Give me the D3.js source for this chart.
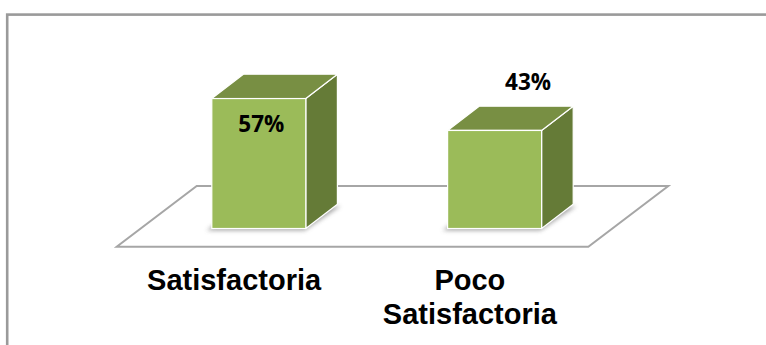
<!DOCTYPE html>
<html>
<head>
<meta charset="utf-8">
<script src="https://cdn.jsdelivr.net/npm/d3@7"></script>
<style>
  html, body { margin: 0; padding: 0; background: #fff; }
  svg { display: block; }
</style>
</head>
<body>
<svg id="chart" width="766" height="345"></svg>
<script>
// Survey result: share of answers per category
const categories = ["Satisfactoria", "Poco Satisfactoria"];
const values = [57, 43];
const valueLabels = ["57%", "43%"];
const categoryLines = [["Satisfactoria"], ["Poco", "Satisfactoria"]];

const svg = d3.select("#chart");
const W = 766, H = 345;

// frame around the chart area
svg.append("rect")
  .attr("x", 7.2).attr("y", 14.6)
  .attr("width", W + 20).attr("height", H + 20)
  .attr("fill", "#fff")
  .attr("stroke", "#9a9a9a")
  .attr("stroke-width", 2.6);

// 3D floor geometry
const floorFrontY = 246.7, floorBackY = 186;
const floorDx = 80;                 // horizontal shift from front edge to back edge
const floorLeft = 116.7, floorRight = 588.3;

// bar depth projection
const barDx = 31.6, barDy = 24.3, barW = 94;

const x = d3.scaleBand().domain(categories).range([floorLeft, floorRight]).padding(0);
const baseY = (floorFrontY + floorBackY) / 2 + barDy / 2;   // front-bottom of bars
const y = d3.scaleLinear().domain([0, 60]).range([baseY, baseY - 136.8]);

const defs = svg.append("defs");
defs.append("filter").attr("id", "soft")
  .attr("x", "-30%").attr("y", "-30%").attr("width", "160%").attr("height", "160%")
  .append("feGaussianBlur").attr("stdDeviation", 2.2);

// floor
svg.append("polygon")
  .attr("points", [
    [floorLeft, floorFrontY], [floorRight, floorFrontY],
    [floorRight + floorDx, floorBackY], [floorLeft + floorDx, floorBackY]
  ].map(p => p.join(",")).join(" "))
  .attr("fill", "#fff")
  .attr("stroke", "#a6a6a6")
  .attr("stroke-width", 2);

const frontX = c => x(c) + x.bandwidth() / 2 + floorDx / 2 - barDx / 2 - barW / 2;

const bars = svg.selectAll("g.bar").data(categories).enter().append("g").attr("class", "bar");

// soft shadow under each bar
bars.append("polygon")
  .attr("points", (c) => {
    const x0 = frontX(c) - 5, y0 = baseY + 2;
    return [[x0, y0], [x0 + barW + 4, y0], [x0 + barW + barDx + 8, y0 - barDy], [x0 + barDx, y0 - barDy]]
      .map(p => p.join(",")).join(" ");
  })
  .attr("fill", "#8c8c8c")
  .attr("opacity", 0.75)
  .attr("filter", "url(#soft)");

// side face
bars.append("polygon")
  .attr("points", (c, i) => {
    const x1 = frontX(c) + barW, yt = y(values[i]);
    return [[x1, yt], [x1 + barDx, yt - barDy], [x1 + barDx, baseY - barDy], [x1, baseY]]
      .map(p => p.join(",")).join(" ");
  })
  .attr("fill", "#657b37")
  .attr("stroke", "#fff").attr("stroke-width", 1.2).attr("stroke-linejoin", "round");

// top face
bars.append("polygon")
  .attr("points", (c, i) => {
    const x0 = frontX(c), yt = y(values[i]);
    return [[x0, yt], [x0 + barW, yt], [x0 + barW + barDx, yt - barDy], [x0 + barDx, yt - barDy]]
      .map(p => p.join(",")).join(" ");
  })
  .attr("fill", "#788f43")
  .attr("stroke", "#fff").attr("stroke-width", 1.2).attr("stroke-linejoin", "round");

// front face
bars.append("rect")
  .attr("x", c => frontX(c))
  .attr("y", (c, i) => y(values[i]))
  .attr("width", barW)
  .attr("height", (c, i) => baseY - y(values[i]))
  .attr("fill", "#9bbb59")
  .attr("stroke", "#fff").attr("stroke-width", 1.2);

// value labels
const labelPos = [
  { dx: barW / 2 + 2.5, dy: 33.4 },          // inside the tall bar
  { dx: barW + 34 - 47.5, dy: -40 }          // above the short bar
];
bars.append("text")
  .attr("x", (c, i) => frontX(c) + labelPos[i].dx)
  .attr("y", (c, i) => y(values[i]) + labelPos[i].dy)
  .attr("text-anchor", "middle")
  .attr("font-family", "'Open Sans', 'Noto Sans', sans-serif")
  .attr("font-weight", "bold")
  .attr("font-size", 22.5)
  .attr("fill", "#000")
  .text((c, i) => valueLabels[i]);

// category labels along the front edge of the floor
const cat = svg.selectAll("text.cat").data(categories).enter().append("text")
  .attr("class", "cat")
  .attr("text-anchor", "middle")
  .attr("font-family", "'Liberation Sans', Arial, sans-serif")
  .attr("font-weight", "bold")
  .attr("font-size", 29)
  .attr("fill", "#000");
cat.each(function (c, i) {
  const t = d3.select(this);
  categoryLines[i].forEach((line, k) => {
    t.append("tspan")
      .attr("x", x(c) + x.bandwidth() / 2 - 0.5)
      .attr("y", 290 + k * 34)
      .text(line);
  });
});
</script>
</body>
</html>
